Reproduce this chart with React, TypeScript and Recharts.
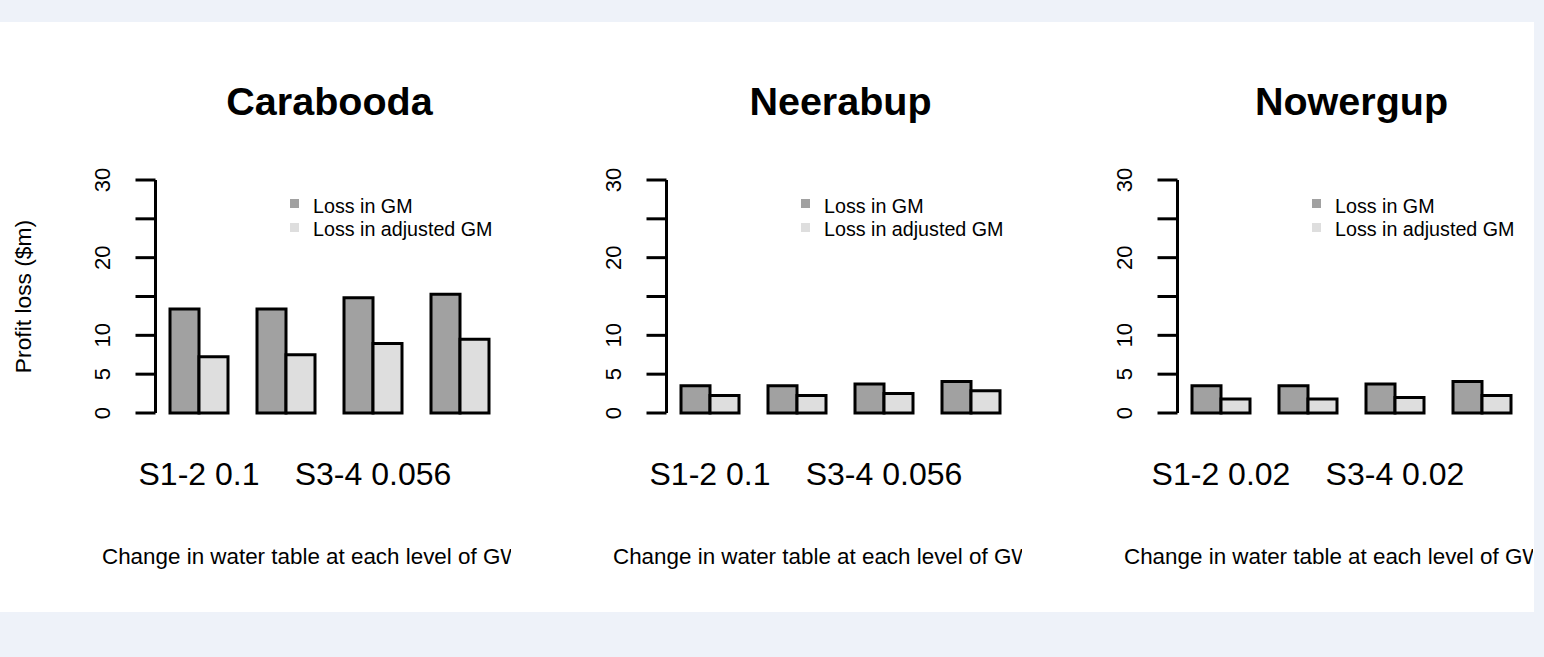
import React from "react";
import { BarChart, Bar, XAxis, YAxis, Legend } from "recharts";

// ---- data ----
const groups = ["G1", "G2", "G3", "G4"];
const yTicks = [0, 5, 10, 15, 20, 25, 30];
const yTickLabels = ["0", "5", "10", "", "20", "", "30"];

const panelTitles = ["Carabooda", "Neerabup", "Nowergup"];

const caraboodaGM = [13.4, 13.4, 14.85, 15.3];
const caraboodaAdj = [7.25, 7.5, 8.95, 9.5];
const neerabupGM = [3.5, 3.5, 3.75, 4.05];
const neerabupAdj = [2.25, 2.25, 2.5, 2.85];
const nowergupGM = [3.5, 3.5, 3.75, 4.05];
const nowergupAdj = [1.8, 1.8, 2.0, 2.25];

const caraboodaLabels = ["S1-2 0.1", "", "S3-4 0.056", ""];
const neerabupLabels = ["S1-2 0.1", "", "S3-4 0.056", ""];
const nowergupLabels = ["S1-2 0.02", "", "S3-4 0.02", ""];

const seriesNames = ["Loss in GM", "Loss in adjusted GM"];
const xTitle = "Change in water table at each level of GW";
const yTitle = "Profit loss ($m)";

// ---- styles ----
const FONT = "'Liberation Sans', Arial, sans-serif";
const DARK = "#a1a1a1";
const LIGHT = "#dedede";
const PANEL_W = 511;
const PANEL_H = 590;

const XTick = (props: any) => {
  const { x, y, payload, labels } = props;
  const idx = payload && payload.index != null ? payload.index : 0;
  return (
    <text x={x} y={y + 72} textAnchor="middle" fontSize={32} fontFamily={FONT} fill="#000">
      {labels[idx]}
    </text>
  );
};

const YTick = (props: any) => {
  const { x, y, payload } = props;
  const i = yTicks.indexOf(payload.value);
  const label = i >= 0 ? yTickLabels[i] : "";
  return (
    <text
      x={x}
      y={y}
      transform={`rotate(-90, ${x}, ${y})`}
      textAnchor="middle"
      fontSize={22}
      fontFamily={FONT}
      fill="#000"
    >
      {label}
    </text>
  );
};

const XTitle = (props: any) => {
  const vb = props.viewBox || { x: 0, y: 0 };
  return (
    <text x={vb.x - 53.5} y={vb.y + 151} textAnchor="start" fontSize={22.4} fontFamily={FONT} fill="#000">
      {xTitle}
    </text>
  );
};

const YTitle = (props: any) => {
  const vb = props.viewBox || { x: 0, y: 0, height: 0 };
  const cy = vb.y + vb.height / 2;
  return (
    <text
      x={31}
      y={cy}
      transform={`rotate(-90, 31, ${cy})`}
      textAnchor="middle"
      fontSize={22.8}
      fontFamily={FONT}
      fill="#000"
    >
      {yTitle}
    </text>
  );
};

const LegendContent = (props: any) => {
  const payload = props.payload || [];
  return (
    <svg
      width={PANEL_W}
      height={260}
      style={{ position: "absolute", left: 0, top: 0, overflow: "visible", pointerEvents: "none" }}
    >
      {payload.map((p: any, i: number) => (
        <g key={i}>
          <rect x={290} y={177 + i * 24} width={9} height={9} fill={p.color} />
          <text x={313} y={191 + i * 23} fontSize={19.7} fontFamily={FONT} fill="#000">
            {p.value}
          </text>
        </g>
      ))}
    </svg>
  );
};

type PanelProps = {
  title: string;
  gm: number[];
  adj: number[];
  labels: string[];
  showYTitle: boolean;
  left: number;
};

const Panel = ({ title, gm, adj, labels, showYTitle, left }: PanelProps) => {
  const data = groups.map((g, i) => ({ group: g, gm: gm[i], adj: adj[i] }));
  return (
    <div
      style={{
        position: "absolute",
        left,
        top: 22,
        width: PANEL_W,
        height: PANEL_H,
        overflow: "hidden",
      }}
    >
      <BarChart
        width={PANEL_W}
        height={PANEL_H}
        data={data}
        margin={{ top: 158, right: 7.5, bottom: 0, left: 0 }}
        barCategoryGap="16.6667%"
        barGap={0}
      >
        <XAxis
          dataKey="group"
          axisLine={false}
          tickLine={false}
          tickSize={0}
          tickMargin={0}
          height={199}
          interval={0}
          tick={(p: any) => <XTick {...p} labels={labels} />}
          label={{ content: XTitle } as any}
        />
        <YAxis
          type="number"
          domain={[0, 30]}
          ticks={yTicks}
          interval={0}
          width={155.5}
          axisLine={{ stroke: "#000", strokeWidth: 3 }}
          tickLine={{ stroke: "#000", strokeWidth: 3 }}
          tickSize={20}
          tickMargin={25.5}
          tick={(p: any) => <YTick {...p} />}
          label={showYTitle ? ({ content: YTitle } as any) : undefined}
        />
        <Legend
          content={LegendContent}
          wrapperStyle={{ position: "absolute", left: 0, top: 0, width: 0, height: 0, overflow: "visible" }}
        />
        <Bar dataKey="gm" name={seriesNames[0]} fill={DARK} stroke="#000" strokeWidth={3} isAnimationActive={false} />
        <Bar dataKey="adj" name={seriesNames[1]} fill={LIGHT} stroke="#000" strokeWidth={3} isAnimationActive={false} />
      </BarChart>
      <svg
        width={PANEL_W}
        height={PANEL_H}
        style={{ position: "absolute", left: 0, top: 0, pointerEvents: "none" }}
      >
        <text x={329.5} y={93} textAnchor="middle" fontSize={39.5} fontWeight="bold" fontFamily={FONT} fill="#000">
          {title}
        </text>
      </svg>
    </div>
  );
};

export default function App() {
  return (
    <div
      style={{
        position: "fixed",
        left: 0,
        top: 0,
        width: 1544,
        height: 657,
        background: "#eef2f9",
        overflow: "hidden",
      }}
    >
      <div style={{ position: "absolute", left: 0, top: 22, width: 1534, height: 590, background: "#fff" }} />
      <Panel title={panelTitles[0]} gm={caraboodaGM} adj={caraboodaAdj} labels={caraboodaLabels} showYTitle={true} left={0} />
      <Panel title={panelTitles[1]} gm={neerabupGM} adj={neerabupAdj} labels={neerabupLabels} showYTitle={false} left={511} />
      <Panel title={panelTitles[2]} gm={nowergupGM} adj={nowergupAdj} labels={nowergupLabels} showYTitle={false} left={1022} />
    </div>
  );
}
